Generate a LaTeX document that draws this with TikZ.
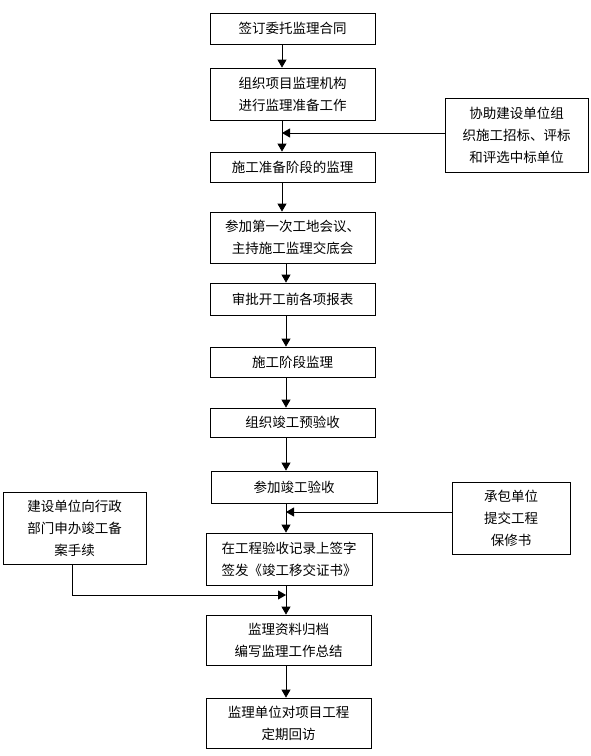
\documentclass[tikz,border=0pt]{standalone}
\usepackage{fontspec}
\newfontfamily\cjk{Noto Sans CJK SC}
\usetikzlibrary{positioning}
\usetikzlibrary{arrows.meta}
\tikzset{
    mybox/.style = {rectangle, line width=0.8pt, draw=black, align=center, fill=white, minimum width=165pt, inner sep=0pt, font=\cjk\fontsize{13.5}{22}\selectfont, text=black},
    mysbox/.style = {rectangle, line width=0.8pt, draw=black, align=center, fill=white, inner sep=0pt, font=\cjk\fontsize{13.5}{22}\selectfont, text=black},
    edgen/.style = {-{Triangle[length=8pt,width=9pt]}, line width=0.8pt, black},
}
\begin{document}
\begin{tikzpicture}[x=1pt,y=-1pt]
\useasboundingbox (0,0) rectangle (591,756);
%
\node[mybox,minimum height=31pt] at (292.5,28.5) (b1) {签订委托监理合同};
\node[mybox,minimum height=52pt] at (292.5,94) (b2) {组织项目监理机构\\进行监理准备工作};
\node[mybox,minimum height=30pt] at (292.5,167) (b3) {施工准备阶段的监理};
\node[mybox,minimum height=51pt] at (292.5,237.5) (b4) {参加第一次工地会议、\\主持施工监理交底会};
\node[mybox,minimum height=32pt] at (292.5,299) (b5) {审批开工前各项报表};
\node[mybox,minimum height=30pt] at (292.5,362) (b6) {施工阶段监理};
\node[mybox,minimum height=29pt] at (292.5,422.5) (b7) {组织竣工预验收};
\node[mybox,minimum height=32pt,minimum width=166pt] at (294,487) (b8) {参加竣工验收};
\node[mybox,minimum height=52pt,minimum width=166pt] at (289,559) (b9) {在工程验收记录上签字\\签发《竣工移交证书》};
\node[mybox,minimum height=50pt] at (288.5,640) (b10) {监理资料归档\\编写监理工作总结};
\node[mybox,minimum height=50pt] at (288.5,723) (b11) {监理单位对项目工程\\定期回访};
%
\node[mysbox,minimum width=143pt,minimum height=74pt] at (516.5,135) (s1) {协助建设单位组\\织施工招标、评标\\和评选中标单位};
\node[mysbox,minimum width=143pt,minimum height=72pt] at (74.5,528) (s2) {建设单位向行政\\部门申办竣工备\\案手续};
\node[mysbox,minimum width=118pt,minimum height=72pt] at (511,518) (s3) {承包单位\\提交工程\\保修书};
%
\coordinate (ax) at (282,0);
\coordinate (bx) at (286,0);
\coordinate (j1) at (282,133);
\coordinate (j2) at (286,512);
\coordinate (j3) at (286,595);
%
\draw[edgen] (b1.south -| ax) -- (b2.north -| ax);
\draw[edgen] (b2.south -| ax) -- (b3.north -| ax);
\draw[edgen] (b3.south -| ax) -- (b4.north -| ax);
\draw[edgen] (b4.south -| bx) -- (b5.north -| bx);
\draw[edgen] (b5.south -| bx) -- (b6.north -| bx);
\draw[edgen] (b6.south -| bx) -- (b7.north -| bx);
\draw[edgen] (b7.south -| bx) -- (b8.north -| bx);
\draw[edgen] (b8.south -| bx) -- (b9.north -| bx);
\draw[edgen] (b9.south -| bx) -- (b10.north -| bx);
\draw[edgen] (b10.south -| bx) -- (b11.north -| bx);
%
\draw[edgen] (s1.west |- j1) -- (j1);
\draw[edgen] (s3.west |- j2) -- (j2);
\draw[edgen] ([xshift=-2.5pt]s2.south) |- (j3);
\end{tikzpicture}
\end{document}
